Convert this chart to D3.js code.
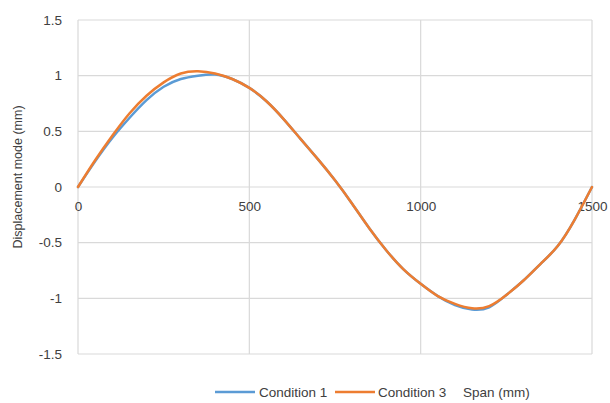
<!DOCTYPE html>
<html>
<head>
<meta charset="utf-8">
<script src="https://cdn.jsdelivr.net/npm/d3@7"></script>
<style>
  html, body { margin: 0; padding: 0; background: #fff; }
  svg { display: block; font-family: "Liberation Sans", Arial, sans-serif; }
</style>
</head>
<body>
<svg id="chart" width="610" height="403"></svg>
<script>
// Span positions (mm)
const span = [0, 50, 100, 150, 200, 250, 300, 350, 400, 450, 500, 550, 600, 650, 700, 750,
              800, 850, 900, 950, 1000, 1050, 1100, 1150, 1200, 1250, 1300, 1350, 1400, 1450, 1500];

// Displacement mode (mm) per span position
const condition1 = [0, 0.23, 0.44, 0.62, 0.78, 0.90, 0.97, 1.00, 1.01, 0.97, 0.89, 0.77, 0.61, 0.43, 0.25, 0.06,
                    -0.15, -0.37, -0.57, -0.74, -0.87, -0.98, -1.06, -1.10, -1.08, -0.97, -0.84, -0.69, -0.53, -0.29, 0];
const condition3 = [0, 0.24, 0.46, 0.66, 0.82, 0.94, 1.02, 1.04, 1.02, 0.97, 0.89, 0.77, 0.61, 0.43, 0.25, 0.06,
                    -0.15, -0.37, -0.57, -0.74, -0.87, -0.98, -1.05, -1.09, -1.07, -0.97, -0.84, -0.69, -0.53, -0.29, 0];

const seriesNames = ["Condition 1", "Condition 3"];
const seriesColors = ["#5b9bd5", "#ed7d31"];
const xTicks = [0, 500, 1000, 1500];
const yTicks = [-1.5, -1, -0.5, 0, 0.5, 1, 1.5];
const xTitle = "Span (mm)";
const yTitle = "Displacement mode (mm)";

const svg = d3.select("#chart");
const plot = { left: 78, right: 592, top: 20, bottom: 354 };

const x = d3.scaleLinear().domain([0, 1500]).range([plot.left, plot.right]);
const y = d3.scaleLinear().domain([-1.5, 1.5]).range([plot.bottom, plot.top]);

const textColor = "#404040";
const gridColor = "#d9d9d9";
const fontSize = 13.5;

// Gridlines
svg.append("g").selectAll("line.h").data(yTicks).join("line")
  .attr("x1", plot.left).attr("x2", plot.right)
  .attr("y1", d => y(d)).attr("y2", d => y(d))
  .attr("stroke", gridColor).attr("stroke-width", 1.2);
svg.append("g").selectAll("line.v").data(xTicks).join("line")
  .attr("x1", d => x(d)).attr("x2", d => x(d))
  .attr("y1", plot.top).attr("y2", plot.bottom)
  .attr("stroke", gridColor).attr("stroke-width", 1.2);

// Y axis labels
const yAxis = d3.axisLeft(y).tickValues(yTicks).tickSize(0).tickPadding(16)
  .tickFormat(d => String(d));
const gy = svg.append("g").attr("transform", `translate(${plot.left},0)`).call(yAxis);
gy.select(".domain").remove();
gy.selectAll("text").attr("font-size", fontSize).attr("fill", textColor)
  .attr("font-family", "Liberation Sans, Arial, sans-serif");

// X axis labels, sitting just under the zero line
const xAxis = d3.axisBottom(x).tickValues(xTicks).tickSize(0).tickPadding(14)
  .tickFormat(d => String(d));
const gx = svg.append("g").attr("transform", `translate(0,${y(0)})`).call(xAxis);
gx.select(".domain").remove();
gx.selectAll("text").attr("font-size", fontSize).attr("fill", textColor)
  .attr("font-family", "Liberation Sans, Arial, sans-serif");

// Y axis title
svg.append("text")
  .attr("transform", `translate(22,${(plot.top + plot.bottom) / 2 - 10}) rotate(-90)`)
  .attr("text-anchor", "middle")
  .attr("font-size", 12.5).attr("fill", textColor)
  .text(yTitle);

// Smoothed lines
const line = d3.line()
  .x(d => x(d[0])).y(d => y(d[1]))
  .curve(d3.curveNatural);

const series = [condition1, condition3];
series.forEach((vals, i) => {
  svg.append("path")
    .datum(span.map((s, j) => [s, vals[j]]))
    .attr("fill", "none")
    .attr("stroke", seriesColors[i])
    .attr("stroke-width", 2.5)
    .attr("stroke-linejoin", "round")
    .attr("stroke-linecap", "round")
    .attr("d", line);
});

// Legend
const legendY = 392;
const legendItems = [
  { x: 215, tx: 259 },
  { x: 335, tx: 378 }
];
legendItems.forEach((it, i) => {
  svg.append("line")
    .attr("x1", it.x).attr("x2", it.x + 40)
    .attr("y1", legendY).attr("y2", legendY)
    .attr("stroke", seriesColors[i]).attr("stroke-width", 2.5);
  svg.append("text")
    .attr("x", it.tx).attr("y", legendY).attr("dy", "0.35em")
    .attr("font-size", fontSize).attr("fill", textColor)
    .text(seriesNames[i]);
});
svg.append("text")
  .attr("x", 463).attr("y", legendY).attr("dy", "0.35em")
  .attr("font-size", fontSize).attr("fill", textColor)
  .text(xTitle);
</script>
</body>
</html>
